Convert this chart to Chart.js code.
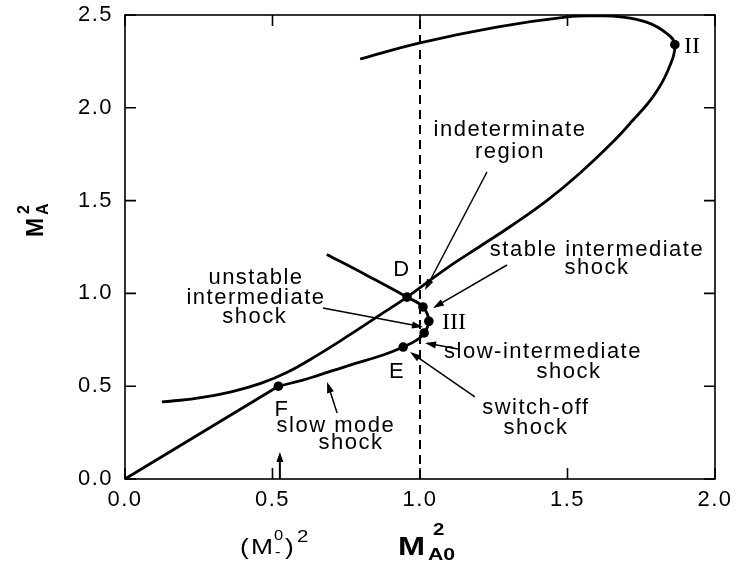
<!DOCTYPE html>
<html><head><meta charset="utf-8">
<script src="https://cdn.jsdelivr.net/npm/chart.js@4/dist/chart.umd.min.js"></script>
<style>html,body{margin:0;padding:0;background:#fff}#wrap{width:739px;height:567px;position:relative}</style>
</head><body><div id="wrap"><canvas id="c"></canvas></div>
<script>
// ---- data ----
const xTickValues = [0.0, 0.5, 1.0, 1.5, 2.0];
const yTickValues = [0.0, 0.5, 1.0, 1.5, 2.0, 2.5];

// upper branch: from left end, through D, round point II, back to the left
const curve1X = [0.125,0.24,0.36,0.46,0.55,0.65,0.76,0.875,0.956,1.09,1.20,1.315,1.43,1.54,1.65,1.72,1.79,1.84,1.864,1.837,1.77,1.68,1.60,1.50,1.26,1.00,0.797];
const curve1Y = [0.415,0.435,0.47,0.515,0.575,0.665,0.775,0.895,0.98,1.135,1.25,1.37,1.50,1.645,1.81,1.93,2.06,2.20,2.34,2.40,2.46,2.49,2.495,2.49,2.435,2.35,2.263];

// straight segment from origin to F
const lineOFX = [0.0, 0.52];
const lineOFY = [0.0, 0.50];

// lower branch: F -> E -> III -> D -> upper-left end
const curve2X = [0.52,0.603,0.65,0.763,0.875,0.943,0.99,1.014,1.03,1.01,0.956,0.82,0.684];
const curve2Y = [0.50,0.533,0.556,0.614,0.668,0.711,0.75,0.787,0.85,0.927,0.98,1.097,1.21];

// marked points: F, E, (dot), III, (dot), D, II
const markX = [0.52,0.943,1.014,1.03,1.01,0.956,1.864];
const markY = [0.50,0.711,0.787,0.85,0.927,0.98,2.34];

// dashed line M_A0^2 = 1
const dashedX = [1.0, 1.0];
const dashedY = [0.0, 2.5];

// (M_-^0)^2 marker on the axis
const mMinusX = [0.525, 0.525];
const mMinusY = [0.0, 0.145];

// ---- annotation layout (positions in data units) ----
const labelsCfg = [
  {t:'indeterminate', x:1.305, y:1.880},
  {t:'region', x:1.305, y:1.762},
  {t:'stable intermediate', x:1.600, y:1.234},
  {t:'shock', x:1.600, y:1.137},
  {t:'unstable', x:0.444, y:1.083},
  {t:'intermediate', x:0.444, y:0.975},
  {t:'shock', x:0.440, y:0.873},
  {t:'slow-intermediate', x:1.417, y:0.684},
  {t:'shock', x:1.505, y:0.577},
  {t:'switch-off', x:1.393, y:0.383},
  {t:'shock', x:1.393, y:0.275},
  {t:'slow mode', x:0.715, y:0.286},
  {t:'shock', x:0.766, y:0.194},
  {t:'D', x:0.939, y:1.126},
  {t:'E', x:0.922, y:0.577},
  {t:'F', x:0.532, y:0.372}
];
const romanCfg = [
  {t:'II', x:1.922, y:2.328},
  {t:'III', x:1.115, y:0.841}
];
const arrowsCfg = [
  {x1:1.227,y1:1.654,x2:1.017,y2:1.018},
  {x1:1.295,y1:1.153,x2:1.044,y2:0.921},
  {x1:0.671,y1:0.921,x2:1.010,y2:0.819},
  {x1:1.129,y1:0.700,x2:1.017,y2:0.733},
  {x1:1.186,y1:0.442,x2:0.966,y2:0.684},
  {x1:0.719,y1:0.356,x2:0.685,y2:0.523}
];

const SANS = '"Liberation Sans", Arial, Helvetica, sans-serif';
const SERIF = '"Liberation Serif", "Times New Roman", serif';
const LS = '1.5px';

function zip(xs, ys){ return xs.map((x,i)=>({x:x, y:ys[i]})); }

function drawArrow(ctx, x1, y1, x2, y2, head, w){
  const a = Math.atan2(y2-y1, x2-x1);
  const c = Math.cos(a), s = Math.sin(a);
  ctx.beginPath(); ctx.moveTo(x1,y1); ctx.lineTo(x2 - c*head*0.7, y2 - s*head*0.7); ctx.stroke();
  ctx.beginPath(); ctx.moveTo(x2,y2);
  ctx.lineTo(x2 - head*c + w*s, y2 - head*s - w*c);
  ctx.lineTo(x2 - head*c - w*s, y2 - head*s + w*c);
  ctx.closePath(); ctx.fill();
}
function stretched(ctx, t, x, y, font, sx){
  ctx.save(); ctx.translate(x, y); ctx.scale(sx, 1); ctx.font = font; ctx.fillText(t, 0, 0); ctx.restore();
}

const decor = {
  id:'decor',
  beforeLayout(chart){ chart.ctx.letterSpacing = LS; },
  beforeDraw(chart){ chart.ctx.letterSpacing = LS; },
  afterDraw(chart){
    const ctx = chart.ctx, xs = chart.scales.x, ys = chart.scales.y, a = chart.chartArea;
    ctx.save();
    ctx.letterSpacing = '0px';
    ctx.strokeStyle = '#000'; ctx.fillStyle = '#000';
    // frame
    ctx.lineWidth = 1.6;
    ctx.strokeRect(a.left, a.top, a.right-a.left, a.bottom-a.top);
    // inward ticks on all sides
    const tl = 11;
    ctx.beginPath();
    xTickValues.forEach(v=>{ const p = xs.getPixelForValue(v);
      ctx.moveTo(p, a.bottom); ctx.lineTo(p, a.bottom - tl);
      ctx.moveTo(p, a.top); ctx.lineTo(p, a.top + tl); });
    yTickValues.forEach(v=>{ const p = ys.getPixelForValue(v);
      ctx.moveTo(a.left, p); ctx.lineTo(a.left + tl, p);
      ctx.moveTo(a.right, p); ctx.lineTo(a.right - tl, p); });
    ctx.stroke();
    // annotation arrows
    ctx.lineWidth = 1.5;
    arrowsCfg.forEach(r=>{
      drawArrow(ctx, xs.getPixelForValue(r.x1), ys.getPixelForValue(r.y1), xs.getPixelForValue(r.x2), ys.getPixelForValue(r.y2), 11, 3.5);
    });
    ctx.lineWidth = 2;
    drawArrow(ctx, xs.getPixelForValue(mMinusX[0]), ys.getPixelForValue(mMinusY[0]), xs.getPixelForValue(mMinusX[1]), ys.getPixelForValue(mMinusY[1]), 10, 3.5);
    // text labels
    ctx.letterSpacing = LS;
    ctx.textAlign = 'center'; ctx.textBaseline = 'middle';
    ctx.font = '22px ' + SANS;
    labelsCfg.forEach(l=>{ ctx.fillText(l.t, xs.getPixelForValue(l.x), ys.getPixelForValue(l.y)); });
    ctx.letterSpacing = '0px';
    ctx.font = '24px ' + SERIF;
    romanCfg.forEach(l=>{ ctx.fillText(l.t, xs.getPixelForValue(l.x), ys.getPixelForValue(l.y)); });
    // x axis title  M^2_A0
    ctx.textAlign = 'left'; ctx.textBaseline = 'alphabetic';
    let bx = a.left + 273, by = a.bottom + 76;
    stretched(ctx, 'M', bx, by, 'bold 25px ' + SANS, 1.3);
    stretched(ctx, '2', bx + 35, by - 20, 'bold 17px ' + SANS, 1.2);
    stretched(ctx, 'A0', bx + 30, by + 5, 'bold 17px ' + SANS, 1.25);
    // (M^0_-)^2
    ctx.font = '22px ' + SANS; ctx.letterSpacing = '0px';
    let mx = a.left + 115, my = a.bottom + 75;
    stretched(ctx, '(', mx, my, '22px ' + SANS, 1.2);
    stretched(ctx, 'M', mx + 11, my, '22px ' + SANS, 1.2);
    stretched(ctx, '0', mx + 34, my - 14, '15px ' + SANS, 1.1);
    stretched(ctx, '-', mx + 35, my + 3, '15px ' + SANS, 1.1);
    stretched(ctx, ')', mx + 45, my, '22px ' + SANS, 1.2);
    stretched(ctx, '2', mx + 57, my - 12, '17px ' + SANS, 1.2);
    // y axis title  M^2_A (rotated)
    ctx.save();
    ctx.translate(a.left - 82, a.top + 202);
    ctx.rotate(-Math.PI/2);
    ctx.font = 'bold 23px ' + SANS;
    ctx.textAlign = 'left';
    ctx.fillText('M', -20, 0);
    ctx.font = 'bold 16px ' + SANS;
    ctx.fillText('2', 3, -14);
    ctx.fillText('A', 2, 5);
    ctx.restore();
    ctx.restore();
  }
};

const tickFont = {family: SANS, size: 22};

new Chart(document.getElementById('c'), {
  type: 'scatter',
  data: {
    datasets: [
      {data: zip(curve1X, curve1Y), showLine:true, borderColor:'#000', borderWidth:2.8, pointRadius:0, tension:0.4, fill:false},
      {data: zip(lineOFX, lineOFY), showLine:true, borderColor:'#000', borderWidth:2.8, pointRadius:0, tension:0, fill:false},
      {data: zip(curve2X, curve2Y), showLine:true, borderColor:'#000', borderWidth:2.8, pointRadius:0, tension:0.4, fill:false},
      {data: zip(dashedX, dashedY), showLine:true, borderColor:'#000', borderWidth:2, borderDash:[9,6], pointRadius:0, fill:false},
      {data: zip(markX, markY), showLine:false, pointRadius:4.8, pointBackgroundColor:'#000', pointBorderColor:'#000', pointBorderWidth:0}
    ]
  },
  options: {
    responsive:true, maintainAspectRatio:false, animation:false,
    layout:{padding:{left:0, right:24, top:15, bottom:0}},
    plugins:{legend:{display:false}, tooltip:{enabled:false}},
    scales:{
      x:{type:'linear', min:0, max:2.0,
        afterBuildTicks: s => { s.ticks = xTickValues.map(v=>({value:v})); },
        ticks:{callback:v=>Number(v).toFixed(1), font:tickFont, color:'#000', padding:8, maxRotation:0, autoSkip:false},
        grid:{display:false, drawTicks:false}, border:{display:false},
        afterFit: s => { s.height = 88; s.paddingLeft = 0; s.paddingRight = 0; }
      },
      y:{type:'linear', min:0, max:2.5,
        afterBuildTicks: s => { s.ticks = yTickValues.map(v=>({value:v})); },
        ticks:{callback:v=>Number(v).toFixed(1), font:tickFont, color:'#000', padding:12, autoSkip:false},
        grid:{display:false, drawTicks:false}, border:{display:false},
        afterFit: s => { s.width = 125; s.paddingTop = 0; s.paddingBottom = 0; }
      }
    }
  },
  plugins:[decor]
});
</script>
</body></html>
